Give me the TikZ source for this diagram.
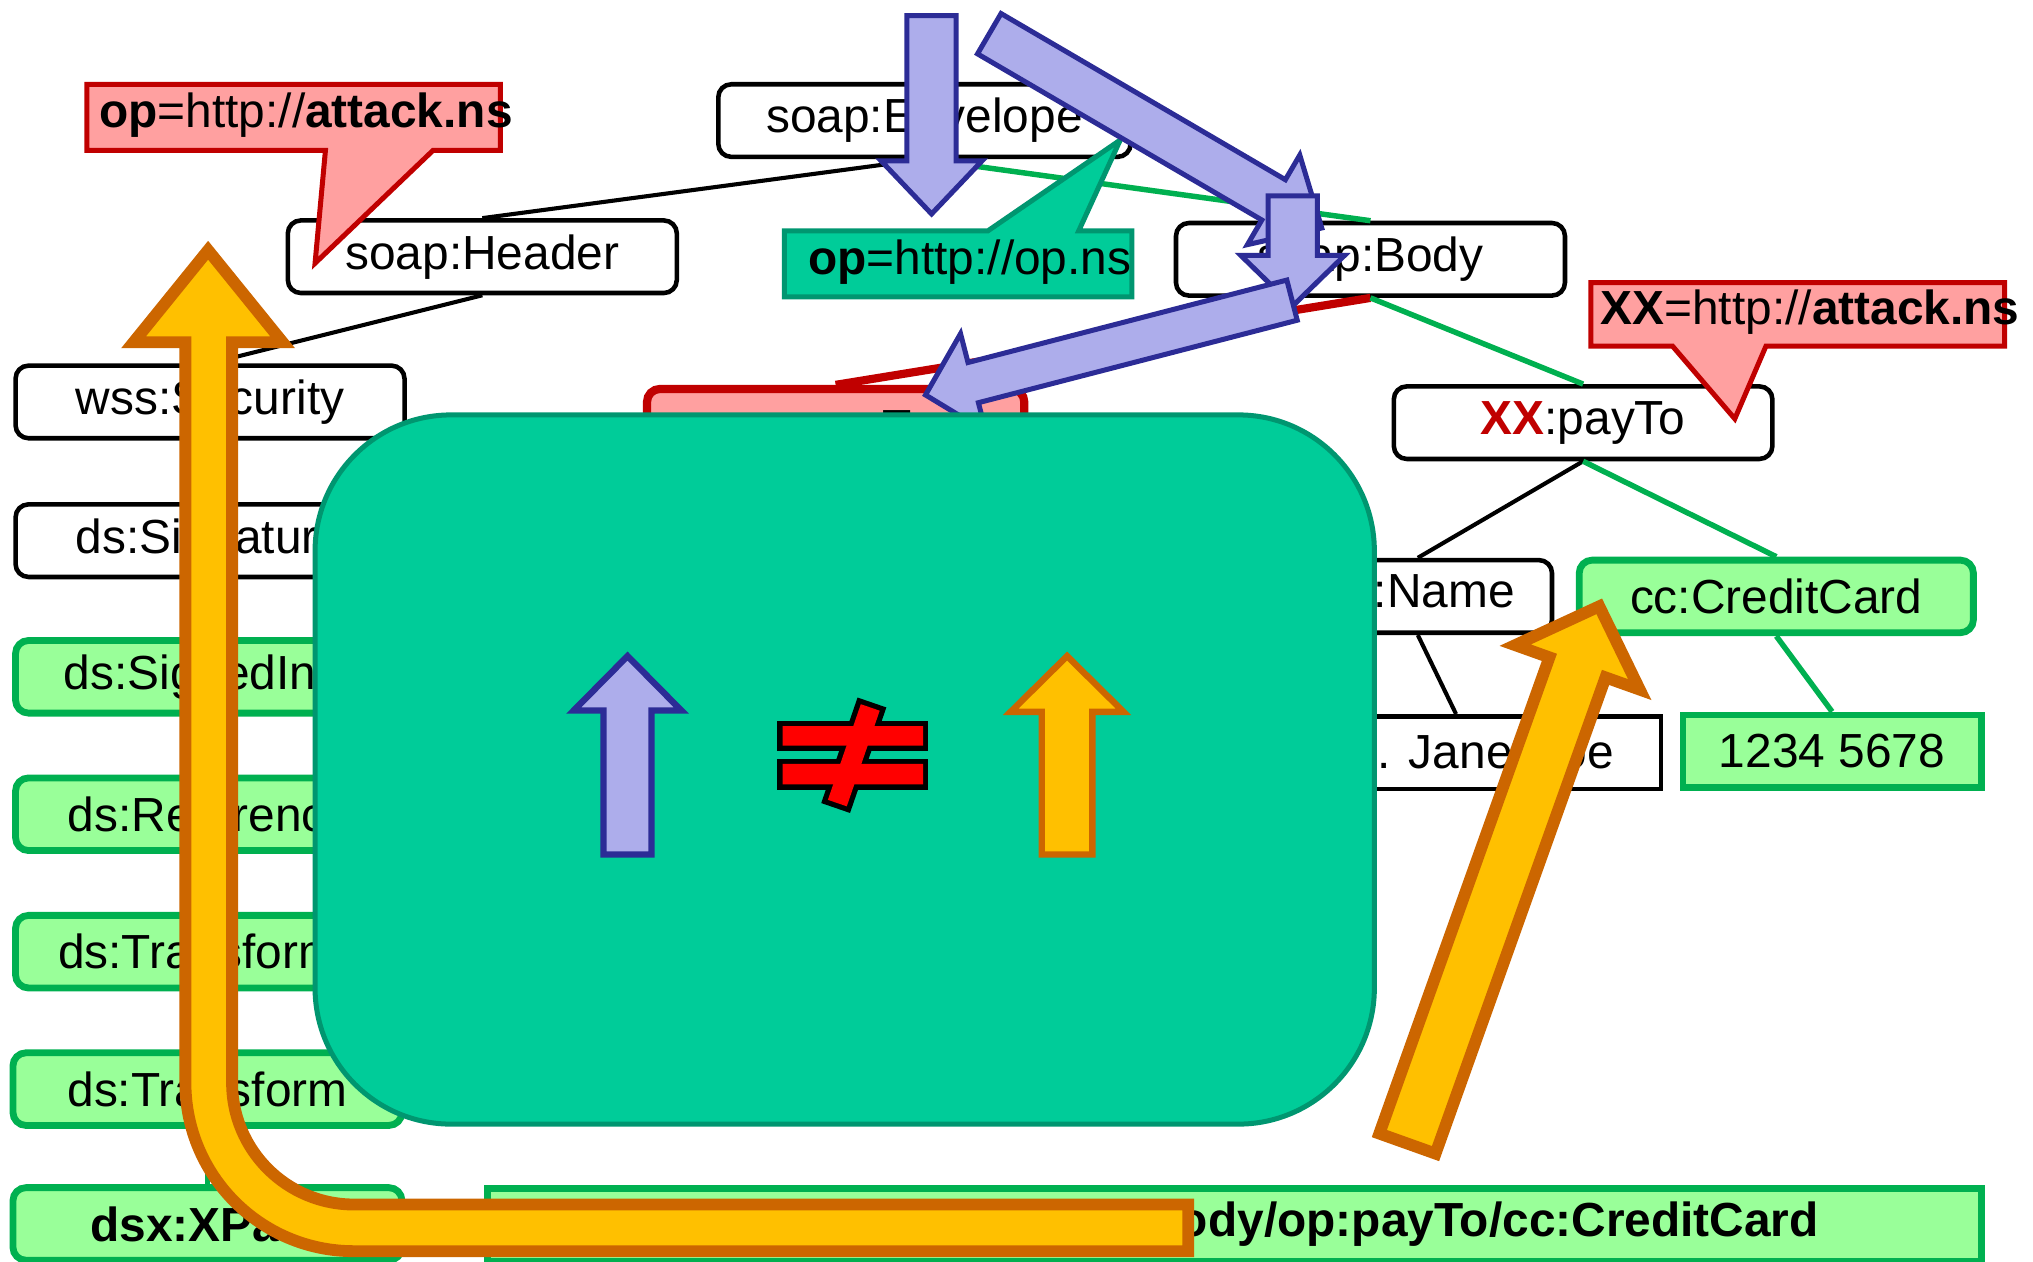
\documentclass[tikz,border=0pt]{standalone}
\usepackage{fontspec}
\setmainfont{Liberation Sans}

\definecolor{arrowblue}{RGB}{173,173,235}
\definecolor{arrowedge}{RGB}{44,44,150}
\definecolor{gold}{RGB}{255,192,0}
\definecolor{rust}{RGB}{204,102,0}
\definecolor{nsgreen}{RGB}{0,204,153}
\definecolor{nsedge}{RGB}{0,150,112}
\definecolor{signedfill}{RGB}{153,255,153}
\definecolor{signededge}{RGB}{0,176,80}
\definecolor{evilfill}{RGB}{255,160,160}
\definecolor{eviledge}{RGB}{192,0,0}

% block arrow: [style]{tail}{angle}{length}{shaft half width}{head half width}{head length}
\newcommand{\bigarrow}[7][]{%
  \begin{scope}[shift={#2}, rotate=#3]
    \draw[#1] (0,-#5) -- ({#4-#7},-#5) -- ({#4-#7},-#6) -- (#4,0) -- ({#4-#7},#6) -- ({#4-#7},#5) -- (0,#5) -- cycle;
  \end{scope}}

\begin{document}
\begin{tikzpicture}[every node/.style={font=\fontsize{10.5}{12.6}\selectfont}]
        \tikzstyle{elem} = [rectangle, draw, fill=white, rounded corners=1mm, line width=1pt, minimum width=3cm, minimum height=5.6mm, inner sep=0pt]
        \tikzstyle{signed} = [elem, fill=signedfill, draw=signededge, line width=1.5pt]
        \tikzstyle{textval} = [elem, sharp corners]
        \tikzstyle{evil} = [elem, fill=evilfill, draw=eviledge, line width=1.8pt]
        \tikzstyle{link} = [line width=0.9pt]
        \tikzstyle{slink} = [line width=1.2pt, signededge]
        \tikzstyle{elink} = [line width=1.8pt, eviledge]
        \tikzstyle{callred} = [fill=evilfill, draw=eviledge, line width=1.1pt]
        \tikzstyle{callgreen} = [fill=nsgreen, draw=nsedge, line width=1.1pt]
        \tikzstyle{blockblue} = [fill=arrowblue, draw=arrowedge, line width=1.1pt]
        \tikzstyle{blockgold} = [fill=gold, draw=rust, line width=2.6pt]

        \useasboundingbox (0,0) rectangle (15.68,-9.73);

        \node [elem, minimum width=3.18cm] (envelope) at (7.13,-0.93) {soap:Envelope};
        \node [elem] (header)  at (3.72,-1.98) {soap:Header};
        \node [elem] (body)    at (10.57,-2.00) {soap:Body};
        \node [evil, minimum width=2.91cm, minimum height=6.6mm] (payto) at (6.445,-3.33) {op:payTo};
        \node [elem, minimum width=2.92cm] (xxpayto) at (12.21,-3.26) {\textbf{\textcolor{eviledge}{XX}}:payTo};
        \node [elem, minimum width=2.07cm] (name) at (10.935,-4.60) {op:Name};
        \node [signed, minimum width=3.04cm] (card) at (13.70,-4.60) {cc:CreditCard};
        \node [textval, minimum width=3.16cm] (jane) at (11.23,-5.805) {Mrs. Jane Doe};
        \node [signed, sharp corners, minimum width=2.30cm] (number) at (14.13,-5.795) {1234 5678};

        \node [elem]   (security)   at (1.62,-3.10) {wss:Security};
        \node [elem]   (signature)  at (1.62,-4.17) {ds:Signature};
        \node [signed] (signedinfo) at (1.62,-5.22) {ds:SignedInfo};
        \node [signed] (reference)  at (1.62,-6.28) {ds:Reference};
        \node [signed] (transforms) at (1.62,-7.34) {ds:Transforms};
        \node [signed] (transform)  at (1.60,-8.40) {ds:Transform};
        \node [signed] (xpath)      at (1.60,-9.44) {\textbf{dsx:XPath}};
        \node [signed, sharp corners, minimum width=11.52cm] (expr) at (9.52,-9.445) {\textbf{/soap:Envelope/soap:Body/op:payTo/cc:CreditCard}};

        \draw [link]  (envelope.south) -- (header.north);
        \draw [slink] (envelope.south) -- (body.north);
        \draw [link]  (header.south) -- (security.north);
        \draw [elink] (body.south) -- (payto.north);
        \draw [slink] (body.south) -- (xxpayto.north);
        \draw [link]  (xxpayto.south) -- (name.north);
        \draw [slink] (xxpayto.south) -- (card.north);
        \draw [link]  (name.south) -- (jane.north);
        \draw [slink] (card.south) -- (number.north);
        \draw [link]  (security) -- (signature);
        \draw [slink] (signature) -- (signedinfo);
        \draw [slink] (signedinfo) -- (reference);
        \draw [slink] (reference) -- (transforms);
        \draw [slink] (transforms) -- (transform);
        \draw [slink] (transform) -- (xpath);

        \filldraw [callred] (0.67,-0.65) -- (3.86,-0.65) -- (3.86,-1.16) -- (3.34,-1.16) -- (2.43,-2.03) -- (2.51,-1.16) -- (0.67,-1.16) -- cycle;
        \node (opattack) at (2.36,-0.89) {\textbf{op}=http://\textbf{attack.ns}};
        \filldraw [callgreen] (6.05,-1.78) -- (7.62,-1.78) -- (8.64,-1.08) -- (8.32,-1.78) -- (8.73,-1.78) -- (8.73,-2.29) -- (6.05,-2.29) -- cycle;
        \node (opns) at (7.48,-2.02) {\textbf{op}=http://op.ns};
        \filldraw [callred] (12.27,-2.18) -- (15.46,-2.18) -- (15.46,-2.67) -- (13.62,-2.67) -- (13.38,-3.23) -- (12.90,-2.67) -- (12.27,-2.67) -- cycle;
        \node (xxattack) at (13.96,-2.41) {\textbf{XX}=http://\textbf{attack.ns}};

        \bigarrow[blockblue]{(7.185,-0.12)}{-90}{1.53}{0.19}{0.39}{0.41}
        \bigarrow[blockblue]{(7.63,-0.26)}{-30.3}{2.97}{0.18}{0.40}{0.43}
        \bigarrow[blockblue]{(9.97,-1.51)}{-90}{0.85}{0.19}{0.40}{0.39}
        \bigarrow[blockblue]{(9.965,-2.315)}{194.5}{2.92}{0.16}{0.39}{0.38}

        \filldraw [fill=nsgreen, draw=nsedge, line width=1.1pt, rounded corners=10.5mm] (2.43,-3.20) rectangle (10.60,-8.67);

        \bigarrow[blockblue, line width=1.4pt]{(4.84,-6.59)}{90}{1.53}{0.185}{0.415}{0.42}
        \bigarrow[blockgold, line width=1.4pt]{(8.23,-6.59)}{90}{1.53}{0.195}{0.435}{0.43}

        \draw [black, line width=2.3pt] (6.036,-5.60) rectangle (7.12,-5.75) (6.036,-5.892) rectangle (7.12,-6.05);
        \draw [black, line width=2.3pt, shift={(6.585,-5.825)}, rotate=71] (-0.39,-0.077) rectangle (0.39,0.077);
        \fill [red] (6.036,-5.60) rectangle (7.12,-5.75) (6.036,-5.892) rectangle (7.12,-6.05);
        \fill [red, shift={(6.585,-5.825)}, rotate=71] (-0.39,-0.077) rectangle (0.39,0.077);

        \draw [blockgold] (9.165,-9.65) -- (2.73,-9.65) arc[start angle=270, end angle=180, radius=1.30] -- (1.43,-2.64) -- (1.03,-2.64) -- (1.605,-1.93) -- (2.18,-2.64) -- (1.79,-2.64) -- (1.79,-8.35) arc[start angle=180, end angle=270, radius=0.94] -- (9.165,-9.29) -- cycle;
        \bigarrow[blockgold]{(10.855,-8.82)}{70.35}{4.40}{0.23}{0.51}{0.50}
    \end{tikzpicture}
\end{document}
